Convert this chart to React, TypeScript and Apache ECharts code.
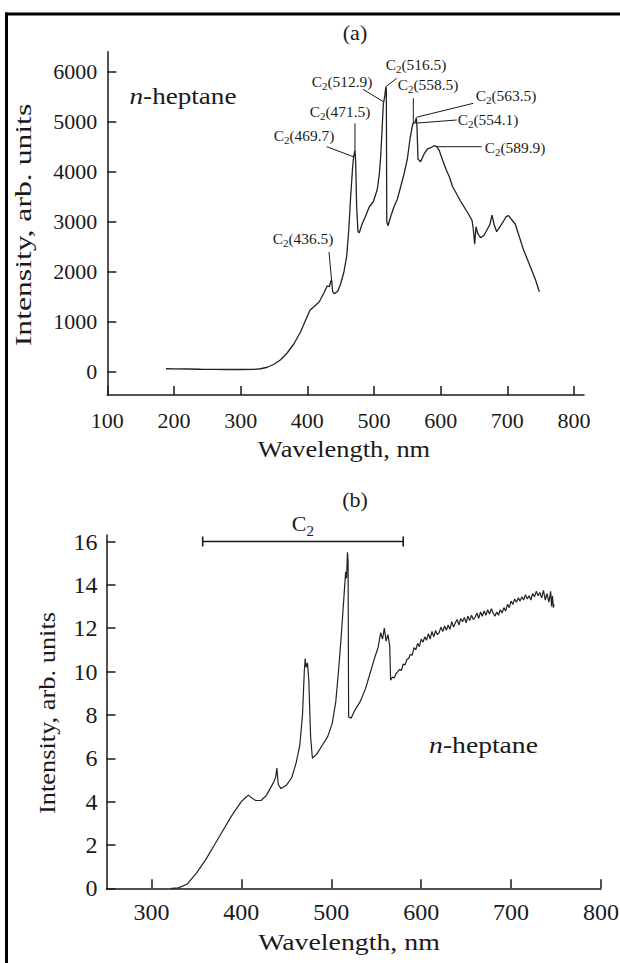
import React, { useEffect, useRef } from 'react';
import * as echarts from 'echarts';

// ---------- data: panel (a) ----------
const wavelengthA = [188, 200, 220, 240, 260, 280, 300, 320, 330, 340, 350, 360, 370, 380, 390, 398, 404, 410, 418, 425, 430, 433, 435, 436.5, 438, 441, 446, 450, 455, 459, 462, 465, 468, 469.5, 471.5, 472.5, 474, 476, 478, 482, 487, 493, 499, 505, 508, 510, 512, 514, 516, 517.8, 518.5, 519.2, 521, 525, 530, 535, 540, 545, 550, 554, 556, 558, 560, 562, 563.5, 564.5, 566, 570, 575, 580, 585, 590, 594, 598, 603, 608, 613, 618, 623, 629, 635, 641, 647, 649, 651, 653, 656, 660, 665, 670, 674, 677, 680, 684, 688, 693, 698, 702, 706, 712, 718, 724, 730, 736, 742, 748];
const intensityA = [60, 58, 55, 50, 48, 45, 45, 48, 60, 90, 150, 240, 380, 560, 800, 1050, 1230, 1300, 1400, 1580, 1720, 1700, 1800, 1830, 1600, 1560, 1620, 1760, 2000, 2300, 2800, 3500, 4100, 4300, 4430, 4200, 3300, 2800, 2780, 2950, 3100, 3300, 3400, 3650, 3950, 4300, 4800, 5350, 5500, 5700, 5650, 3000, 2920, 3100, 3300, 3450, 3700, 3950, 4250, 4650, 4800, 4950, 4980, 5000, 5080, 4900, 4250, 4200, 4350, 4450, 4480, 4520, 4500, 4420, 4230, 4050, 3900, 3700, 3580, 3430, 3300, 3170, 3030, 2850, 2550, 2900, 2750, 2680, 2730, 2850, 2950, 3130, 2950, 2800, 2880, 2980, 3100, 3120, 3050, 2950, 2700, 2450, 2250, 2050, 1850, 1600];

const xTicksA = [100, 200, 300, 400, 500, 600, 700, 800];
const yTicksA = [0, 1000, 2000, 3000, 4000, 5000, 6000];

const peakNamesA = ['436.5', '469.7', '471.5', '512.9', '516.5', '554.1', '558.5', '563.5', '589.9'];
const peakWlA = [436.6, 469, 471.5, 514, 517.8, 561.5, 559, 564, 594];
const peakValA = [1800, 4300, 4430, 5400, 5700, 4970, 4970, 5090, 4500];

// ---------- data: panel (b) ----------
const wavelengthB = [322, 330, 340, 350, 360, 370, 380, 390, 400, 405, 408, 412, 416, 422, 428, 432, 436, 438, 439.5, 441, 444, 450, 456, 461, 465, 468, 470, 471, 472, 473.5, 475, 477, 479, 484, 490, 496, 501, 505, 508, 511, 514, 516, 517, 518, 518.7, 519.3, 522, 526, 532, 538, 543, 548, 552, 555, 557, 559, 561, 563, 565,
  566, 568, 570, 572, 574, 576, 578, 580, 582, 584, 586, 588, 590, 592, 594, 596, 598, 600, 602, 604, 606, 608, 610, 612, 614, 616, 618, 620, 622, 624, 626, 628, 630, 632, 634, 636, 638, 640, 642, 644, 646, 648, 650, 652, 654, 656, 658, 660, 662, 664, 666, 668, 670, 672, 674, 676, 678, 680, 682, 684, 686, 688, 690, 692, 694, 696, 698, 700, 702, 704, 706, 708, 710, 712, 714, 716, 718, 720, 722, 724, 726, 728, 730, 732, 734, 736, 738, 740, 742, 744, 745, 746, 747, 748];
const intensityB = [0, 0.02, 0.2, 0.7, 1.3, 2.0, 2.7, 3.4, 4.0, 4.2, 4.3, 4.15, 4.05, 4.05, 4.3, 4.6, 4.9, 5.1, 5.55, 4.8, 4.6, 4.75, 5.1, 5.8, 6.6, 8.0, 10.0, 10.6, 10.2, 10.4, 9.6, 7.0, 6.0, 6.2, 6.6, 7.0, 7.6, 8.6, 10.0, 11.6, 13.4, 14.6, 14.3, 15.5, 15.1, 7.9, 7.85, 8.2, 8.6, 9.2, 9.9, 10.6, 11.1, 11.8, 11.5, 12.0, 11.4, 11.7, 11.2,
  9.6, 9.75, 9.7, 9.9, 10.0, 10.1, 10.05, 10.35, 10.3, 10.55, 10.6, 10.8, 10.75, 11.1, 11.0, 11.3, 11.15, 11.5, 11.35, 11.6, 11.45, 11.75, 11.5, 11.85, 11.6, 11.9, 11.7, 11.8, 12.05, 11.85, 12.1, 11.9, 12.15, 11.95, 12.3, 12.05, 12.25, 12.4, 12.15, 12.45, 12.3, 12.5, 12.25, 12.55, 12.35, 12.6, 12.4, 12.5, 12.7, 12.45, 12.75, 12.55, 12.8, 12.6, 12.85, 12.65, 12.9, 12.7, 12.55, 12.75, 12.6, 12.85, 12.7, 12.95, 12.8, 13.1, 12.95, 13.25, 13.1, 13.35, 13.2, 13.4, 13.25, 13.45, 13.3, 13.55, 13.35, 13.5, 13.3, 13.6, 13.45, 13.7, 13.5, 13.65, 13.4, 13.75, 13.3, 13.6, 13.2, 13.7, 13.0, 13.5, 12.95, 13.1];

const xTicksB = [300, 400, 500, 600, 700, 800];
const yTicksB = [0, 2, 4, 6, 8, 10, 12, 14, 16];

const c2BandB = [357, 580];
const c2LevelB = 16;

// ---------- layout (pixels) ----------
const peakLabelLayoutA = [
  { tx: 303, ty: 240, lx: 329, ly: 252 },
  { tx: 304, ty: 137, lx: 326.7, ly: 146.7 },
  { tx: 340, ty: 113, lx: 355, ly: 123.3 },
  { tx: 342, ty: 83, lx: 363, ly: 89.3 },
  { tx: 416, ty: 66, lx: 396.7, ly: 78.3 },
  { tx: 488, ty: 121, lx: 456.7, ly: 120 },
  { tx: 428, ty: 86, lx: 413.3, ly: 98.3 },
  { tx: 506, ty: 97, lx: 473.3, ly: 103.3 },
  { tx: 515, ty: 149, lx: 481.7, ly: 146.7 },
];

const FONT = "'Liberation Serif', 'Times New Roman', Times, serif";
const INK = '#1a1a1a';

const pairs = (xs: number[], ys: number[]) => xs.map((x, i) => [x, ys[i]]);

function axisStyle(ticks: number[], fontSize: number, margin: number) {
  return {
    axisLine: { show: true, onZero: false, lineStyle: { color: INK, width: 1.5 } },
    axisTick: { show: true, inside: true, length: 9, customValues: ticks, lineStyle: { color: INK, width: 1.5 } },
    axisLabel: {
      show: true, customValues: ticks, margin, color: INK, fontFamily: FONT, fontSize,
      formatter: (v: number) => String(v),
    },
    splitLine: { show: false },
  };
}

function subRich(big: number, small: number) {
  return {
    c: { fontSize: big, fontFamily: FONT, fill: INK, color: INK, lineHeight: big + 2, verticalAlign: 'top' },
    s: { fontSize: small, fontFamily: FONT, fill: INK, color: INK, lineHeight: small, padding: [Math.round(big * 0.5), 0, 0, 0], verticalAlign: 'top' },
  };
}

function textEl(x: number, y: number, text: string, fontSize: number, extra: any = {}) {
  return {
    type: 'text',
    x,
    y,
    scaleX: extra.scaleX ?? 1,
    rotation: extra.rotation ?? 0,
    silent: true,
    style: {
      text,
      fill: INK,
      fontFamily: FONT,
      fontSize,
      align: 'center',
      verticalAlign: 'middle',
      textAlign: 'center',
      textVerticalAlign: 'middle',
      rich: extra.rich,
    },
  };
}

export default function App() {
  const ref = useRef<HTMLDivElement>(null);

  useEffect(() => {
    document.body.style.margin = '0';
    const chart = echarts.init(ref.current!, null, { renderer: 'svg' });

    const option: any = {
      animation: false,
      backgroundColor: '#ffffff',
      grid: [
        { left: 107.3, right: 36, top: 51.7, bottom: 568, outerBoundsMode: 'none' },
        { left: 106.5, right: 19, top: 535, bottom: 74.7, outerBoundsMode: 'none' },
      ],
      xAxis: [
        { type: 'value', gridIndex: 0, min: 100, max: 815, ...axisStyle(xTicksA, 22, 14) },
        { type: 'value', gridIndex: 1, min: 250, max: 800, ...axisStyle(xTicksB, 24, 12) },
      ],
      yAxis: [
        { type: 'value', gridIndex: 0, min: -465, max: 6400, ...axisStyle(yTicksA, 22, 10) },
        { type: 'value', gridIndex: 1, min: 0, max: 16.3, ...axisStyle(yTicksB, 24, 9) },
      ],
      series: [
        {
          type: 'line', xAxisIndex: 0, yAxisIndex: 0, data: pairs(wavelengthA, intensityA),
          showSymbol: false, symbol: 'none', lineStyle: { color: '#222', width: 1.3 }, silent: true,
        },
        {
          type: 'line', xAxisIndex: 1, yAxisIndex: 1, data: pairs(wavelengthB, intensityB),
          showSymbol: false, symbol: 'none', lineStyle: { color: '#222', width: 1.2 }, silent: true,
        },
        {
          type: 'line', xAxisIndex: 1, yAxisIndex: 1,
          data: c2BandB.map((x) => [x, c2LevelB]),
          symbol: 'rect', symbolSize: [1.6, 10], showSymbol: true,
          itemStyle: { color: INK, borderWidth: 0 }, lineStyle: { color: INK, width: 1.6 }, silent: true,
        },
      ],
    };
    chart.setOption(option);

    const graphics: any[] = [];
    // frame
    graphics.push({ type: 'rect', shape: { x: 5, y: 12.5, width: 3, height: 951 }, style: { fill: '#000' }, silent: true });
    graphics.push({ type: 'rect', shape: { x: 5, y: 12.5, width: 615, height: 3 }, style: { fill: '#000' }, silent: true });

    // panel titles
    graphics.push(textEl(355, 32, '(a)', 22));
    graphics.push(textEl(355, 499, '(b)', 22));

    // axis titles
    graphics.push(textEl(344, 449, 'Wavelength, nm', 24, { scaleX: 1.1 }));
    graphics.push(textEl(349, 942, 'Wavelength, nm', 24, { scaleX: 1.16 }));
    graphics.push(textEl(23, 225, 'Intensity, arb. units', 24, { scaleX: 1.32, rotation: Math.PI / 2 }));
    graphics.push(textEl(46.5, 713, 'Intensity, arb. units', 24, { scaleX: 1.1, rotation: Math.PI / 2 }));

    // n-heptane
    const heptRich = (fs: number) => ({
      i: { fontSize: fs, fontFamily: FONT, fontStyle: 'italic', fill: INK, color: INK },
      r: { fontSize: fs, fontFamily: FONT, fill: INK, color: INK },
    });
    graphics.push(textEl(183, 96, '{i|n}{r|-heptane}', 23, { scaleX: 1.18, rich: heptRich(23) }));
    graphics.push(textEl(483.5, 745, '{i|n}{r|-heptane}', 24, { scaleX: 1.15, rich: heptRich(24) }));

    // peak annotations (a)
    peakNamesA.forEach((name, i) => {
      const L = peakLabelLayoutA[i];
      const p = chart.convertToPixel({ gridIndex: 0 } as any, [peakWlA[i], peakValA[i]]) as number[];
      graphics.push({
        type: 'line', silent: true,
        shape: { x1: L.lx, y1: L.ly, x2: p[0], y2: p[1] },
        style: { stroke: INK, lineWidth: 1 },
      });
      graphics.push(textEl(L.tx, L.ty, `{c|C}{s|2}{c|(${name})}`, 14, { scaleX: 1.1, rich: subRich(14, 10) }));
    });

    // C2 band label (b)
    const pa = chart.convertToPixel({ gridIndex: 1 } as any, [c2BandB[0], c2LevelB]) as number[];
    const pb = chart.convertToPixel({ gridIndex: 1 } as any, [c2BandB[1], c2LevelB]) as number[];
    graphics.push(textEl((pa[0] + pb[0]) / 2, pa[1] - 17, '{c|C}{s|2}', 22, { rich: subRich(22, 15) }));

    chart.setOption({ graphic: graphics });

    return () => chart.dispose();
  }, []);

  return <div ref={ref} style={{ width: 620, height: 963, background: '#fff' }} />;
}
